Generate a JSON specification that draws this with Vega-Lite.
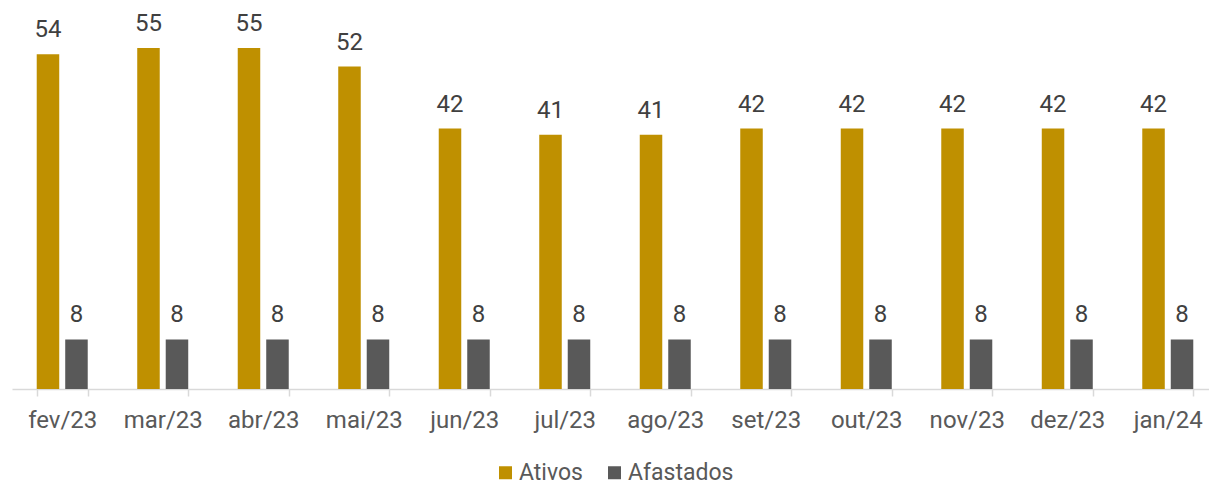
{
  "$schema": "https://vega.github.io/schema/vega-lite/v6.json",
  "width": 1197,
  "height": 372,
  "autosize": {"type": "none"},
  "padding": {"left": 12, "top": 17, "right": 0, "bottom": 94},
  "config": {
    "view": {"stroke": null},
    "font": "Roboto"
  },
  "data": {
    "values": [
      {"mes": "fev/23", "serie": "Ativos", "valor": 54},
      {"mes": "fev/23", "serie": "Afastados", "valor": 8},
      {"mes": "mar/23", "serie": "Ativos", "valor": 55},
      {"mes": "mar/23", "serie": "Afastados", "valor": 8},
      {"mes": "abr/23", "serie": "Ativos", "valor": 55},
      {"mes": "abr/23", "serie": "Afastados", "valor": 8},
      {"mes": "mai/23", "serie": "Ativos", "valor": 52},
      {"mes": "mai/23", "serie": "Afastados", "valor": 8},
      {"mes": "jun/23", "serie": "Ativos", "valor": 42},
      {"mes": "jun/23", "serie": "Afastados", "valor": 8},
      {"mes": "jul/23", "serie": "Ativos", "valor": 41},
      {"mes": "jul/23", "serie": "Afastados", "valor": 8},
      {"mes": "ago/23", "serie": "Ativos", "valor": 41},
      {"mes": "ago/23", "serie": "Afastados", "valor": 8},
      {"mes": "set/23", "serie": "Ativos", "valor": 42},
      {"mes": "set/23", "serie": "Afastados", "valor": 8},
      {"mes": "out/23", "serie": "Ativos", "valor": 42},
      {"mes": "out/23", "serie": "Afastados", "valor": 8},
      {"mes": "nov/23", "serie": "Ativos", "valor": 42},
      {"mes": "nov/23", "serie": "Afastados", "valor": 8},
      {"mes": "dez/23", "serie": "Ativos", "valor": 42},
      {"mes": "dez/23", "serie": "Afastados", "valor": 8},
      {"mes": "jan/24", "serie": "Ativos", "valor": 42},
      {"mes": "jan/24", "serie": "Afastados", "valor": 8}
    ]
  },
  "encoding": {
    "x": {
      "field": "mes",
      "type": "nominal",
      "sort": null,
      "scale": {"range": [0, 1206], "paddingInner": 0.4925, "paddingOuter": 0.246},
      "axis": {
        "title": null,
        "labelAngle": 0,
        "labelFontSize": 24,
        "labelColor": "#595959",
        "labelPadding": 12,
        "domainColor": "#D9D9D9",
        "domainWidth": 1.5,
        "tickColor": "#D9D9D9",
        "tickWidth": 1.5,
        "tickSize": 7,
        "tickBand": "extent"
      }
    },
    "xOffset": {
      "field": "serie",
      "type": "nominal",
      "sort": ["Ativos", "Afastados"],
      "scale": {"paddingInner": 0.21, "paddingOuter": 0}
    },
    "y": {
      "field": "valor",
      "type": "quantitative",
      "scale": {"domain": [0, 60]},
      "axis": null
    }
  },
  "layer": [
    {
      "mark": {"type": "bar"},
      "encoding": {
        "color": {
          "field": "serie",
          "type": "nominal",
          "sort": ["Ativos", "Afastados"],
          "scale": {"domain": ["Ativos", "Afastados"], "range": ["#BF9000", "#595959"]},
          "legend": {
            "title": null,
            "orient": "none",
            "legendX": 482,
            "legendY": 444,
            "padding": 0,
            "direction": "horizontal",
            "symbolType": "square",
            "symbolSize": 169,
            "symbolStrokeWidth": 0,
            "labelFontSize": 23,
            "labelColor": "#595959",
            "labelOffset": 2,
            "labelLimit": 300,
            "columnPadding": 20
          }
        }
      }
    },
    {
      "mark": {"type": "text", "baseline": "bottom", "dy": -12, "fontSize": 24, "color": "#404040"},
      "encoding": {
        "text": {"field": "valor", "type": "quantitative"}
      }
    }
  ]
}
